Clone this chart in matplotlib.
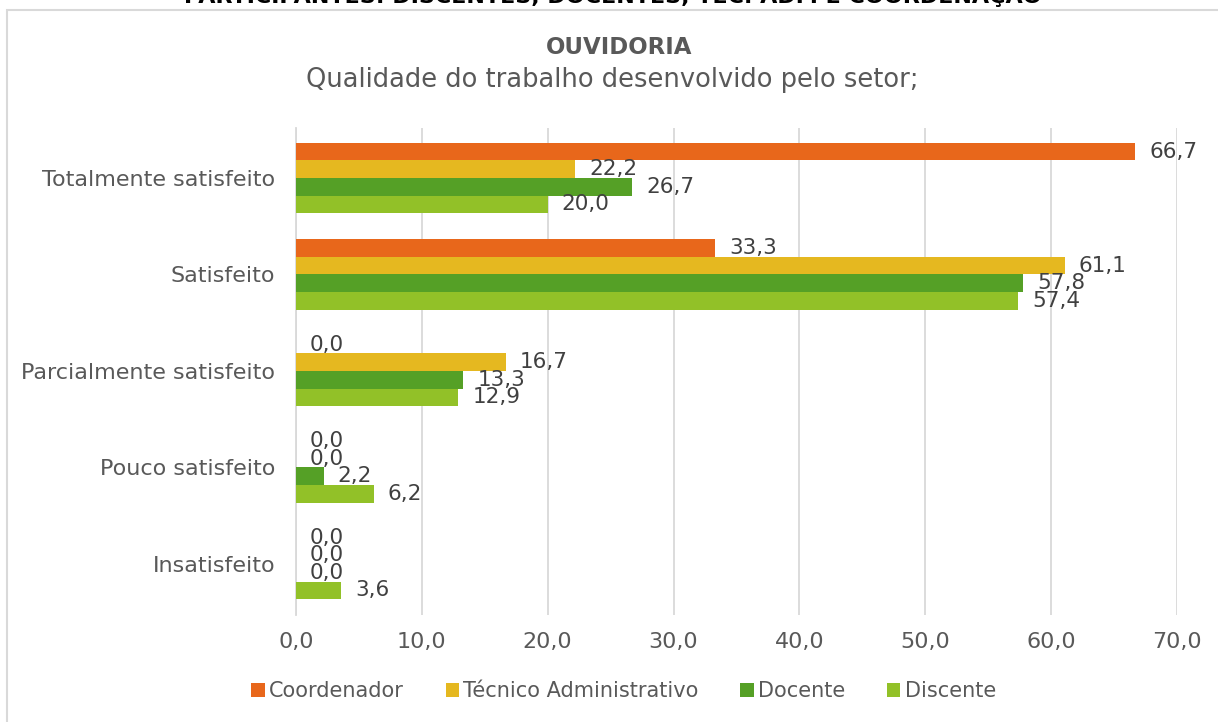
import numpy as np
import matplotlib.pyplot as plt
from matplotlib.patches import Rectangle

categorias = ['Totalmente satisfeito', 'Satisfeito', 'Parcialmente satisfeito',
              'Pouco satisfeito', 'Insatisfeito']
series = ['Coordenador', 'Técnico Administrativo', 'Docente', 'Discente']
coordenador = [66.7, 33.3, 0.0, 0.0, 0.0]
tecnico = [22.2, 61.1, 16.7, 0.0, 0.0]
docente = [26.7, 57.8, 13.3, 2.2, 0.0]
discente = [20.0, 57.4, 12.9, 6.2, 3.6]
cores = ['#E8671B', '#E5B820', '#55A026', '#92C128']
xticks = [0, 10, 20, 30, 40, 50, 60, 70]

valores = [coordenador, tecnico, docente, discente]

plt.rcParams['font.family'] = ['DejaVu Sans']

fig = plt.figure(figsize=(12.18, 7.22), dpi=100)
ax = fig.add_axes([0.243, 0.148, 0.7233, 0.675])

# moldura do grafico
fig.patches.append(Rectangle((7 / 1218, -0.1), 1.2, 1 - 10 / 722 + 0.1,
                             transform=fig.transFigure, fill=False,
                             edgecolor='#D9D9D9', linewidth=1.5))

# titulo cortado no topo
fig.text(0.503, 1 - 3 / 722, 'PARTICIPANTES: DISCENTES, DOCENTES, TEC. ADM E COORDENAÇÃO',
         ha='center', va='baseline', fontsize=16, fontweight='bold', color='black')

fig.text(0.508, 1 - 47 / 722, 'OUVIDORIA', ha='center', va='center',
         fontsize=16.5, fontweight='bold', color='#595959')
fig.text(0.503, 1 - 80 / 722, 'Qualidade do trabalho desenvolvido pelo setor;',
         ha='center', va='center', fontsize=18.5, color='#595959')

y = np.arange(len(categorias))
h = 0.182
for i, (nome, vals, cor) in enumerate(zip(series, valores, cores)):
    pos = y - 1.5 * h + i * h
    ax.barh(pos, vals, height=h, color=cor, label=nome, zorder=3)
    for p, v in zip(pos, vals):
        ax.annotate(f'{v:.1f}'.replace('.', ','), xy=(v, p), xytext=(10, 0),
                    textcoords='offset points', ha='left', va='center',
                    fontsize=15.5, color='#404040', zorder=4)

ax.set_ylim(len(categorias) - 0.47, -0.52)
ax.set_yticks(y)
ax.set_yticklabels(categorias, fontsize=16, color='#595959')
ax.set_xlim(0, 70)
ax.set_xticks(xticks)
ax.set_xticklabels([f'{t:.1f}'.replace('.', ',') for t in xticks],
                   fontsize=16, color='#595959')
ax.tick_params(axis='y', length=0, pad=15)
ax.tick_params(axis='x', length=0, pad=12)
ax.grid(axis='x', color='#D9D9D9', linewidth=1.3, zorder=0)
for s in ['top', 'right', 'bottom']:
    ax.spines[s].set_visible(False)
ax.spines['left'].set_color('#D9D9D9')
ax.spines['left'].set_linewidth(1.3)

fig.legend(loc='center', bbox_to_anchor=(0.512, 1 - 691 / 722), ncol=4, frameon=False,
           fontsize=15, handlelength=0.65, handleheight=0.65, handletextpad=0.2,
           columnspacing=2.0, labelcolor='#595959')

fig.savefig('out.png', dpi=100)
